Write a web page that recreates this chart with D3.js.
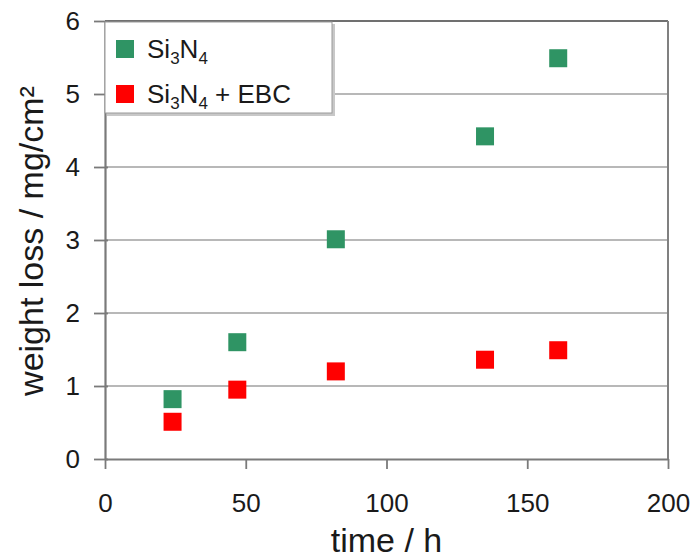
<!DOCTYPE html>
<html>
<head>
<meta charset="utf-8">
<script src="https://cdn.jsdelivr.net/npm/d3@7"></script>
<style>
  body { margin: 0; background: #fff; }
  text { font-family: "Liberation Sans", Arial, sans-serif; fill: #1a1a1a; }
</style>
</head>
<body>
<script>
// datos
const tiempos = [24, 47, 82, 135, 161];
const perdidaSi3N4 = [0.82, 1.60, 3.01, 4.42, 5.49];
const perdidaEBC = [0.51, 0.95, 1.20, 1.36, 1.49];
const ticksX = [0, 50, 100, 150, 200];
const ticksY = [0, 1, 2, 3, 4, 5, 6];

const WIDTH = 695;
const HEIGHT = 559;
const MARGIN = { top: 21, right: 27, bottom: 100, left: 105 };
const ancho = WIDTH - MARGIN.left - MARGIN.right;
const alto = HEIGHT - MARGIN.top - MARGIN.bottom;

const svg = d3.select("body")
    .append("svg")
    .attr("width", WIDTH)
    .attr("height", HEIGHT);

const g = svg.append("g")
    .attr("transform", `translate(${MARGIN.left} ${MARGIN.top})`);

const x = d3.scaleLinear().domain([0, 200]).range([0, ancho]);
const y = d3.scaleLinear().domain([0, 6]).range([alto, 0]);

// grilla horizontal
g.selectAll("line.grid")
    .data(ticksY.slice(1, -1))
    .join("line")
    .attr("class", "grid")
    .attr("x1", 0)
    .attr("x2", ancho)
    .attr("y1", (d) => y(d))
    .attr("y2", (d) => y(d))
    .attr("stroke", "#a0a0a0")
    .attr("stroke-width", 1.6);

// borde superior y derecho
g.append("line")
    .attr("x1", 0).attr("x2", ancho)
    .attr("y1", y(6)).attr("y2", y(6))
    .attr("stroke", "#707070").attr("stroke-width", 2.2);
g.append("line")
    .attr("x1", ancho).attr("x2", ancho)
    .attr("y1", y(6)).attr("y2", alto)
    .attr("stroke", "#808080").attr("stroke-width", 2);

// ejes
const ejeX = g.append("g")
    .attr("transform", `translate(0 ${alto})`)
    .call(d3.axisBottom(x).tickValues(ticksX).tickSize(10).tickPadding(25).tickSizeOuter(0));
const ejeY = g.append("g")
    .call(d3.axisLeft(y).tickValues(ticksY).tickFormat(d3.format("d"))
        .tickSize(11).tickPadding(14).tickSizeOuter(0));

[ejeX, ejeY].forEach((eje) => {
    eje.select(".domain").attr("stroke", "#7a7a7a").attr("stroke-width", 2.2);
    eje.selectAll(".tick line").attr("stroke", "#7a7a7a").attr("stroke-width", 1.8);
    eje.selectAll(".tick text")
        .attr("font-size", 26)
        .attr("font-family", "Liberation Sans, Arial, sans-serif")
        .attr("fill", "#1a1a1a");
});
ejeY.selectAll(".tick line").attr("x2", 3).attr("x1", -11);

// puntos
const lado = 18;
const series = [
    { valores: perdidaSi3N4, color: "#2f9464" },
    { valores: perdidaEBC, color: "#ff0000" },
];

series.forEach((s) => {
    g.selectAll(null)
        .data(tiempos.map((t, i) => [t, s.valores[i]]))
        .join("rect")
        .attr("x", (d) => x(d[0]) - lado / 2)
        .attr("y", (d) => y(d[1]) - lado / 2)
        .attr("width", lado)
        .attr("height", lado)
        .attr("fill", s.color);
});

// leyenda
const leyenda = g.append("g").attr("transform", "translate(0 1)");
leyenda.append("rect")
    .attr("x", 2).attr("y", 2)
    .attr("width", 228).attr("height", 92)
    .attr("fill", "#c8c8c8");
leyenda.append("rect")
    .attr("x", 0).attr("y", 0)
    .attr("width", 227).attr("height", 91)
    .attr("fill", "#fff")
    .attr("stroke", "#9a9a9a")
    .attr("stroke-width", 1);

const filas = [
    { color: "#2f9464", extra: "", cy: 27 },
    { color: "#ff0000", extra: " + EBC", cy: 72 },
];
filas.forEach((f) => {
    leyenda.append("rect")
        .attr("x", 11).attr("y", f.cy - lado / 2)
        .attr("width", lado).attr("height", lado)
        .attr("fill", f.color);
    const t = leyenda.append("text")
        .attr("x", 42).attr("y", f.cy + 9)
        .attr("font-size", 26);
    t.append("tspan").text("Si");
    t.append("tspan").attr("font-size", 17).attr("dy", 6).text("3");
    t.append("tspan").attr("dy", -6).text("N");
    t.append("tspan").attr("font-size", 17).attr("dy", 6).text("4");
    t.append("tspan").attr("dy", -6).text(f.extra);
});

// títulos de ejes
svg.append("text")
    .attr("x", MARGIN.left + ancho / 2)
    .attr("y", 552)
    .attr("text-anchor", "middle")
    .attr("font-size", 34)
    .text("time / h");

svg.append("text")
    .attr("transform", "translate(43 241) rotate(-90)")
    .attr("text-anchor", "middle")
    .attr("font-size", 34)
    .text("weight loss / mg/cm²");
</script>
</body>
</html>
